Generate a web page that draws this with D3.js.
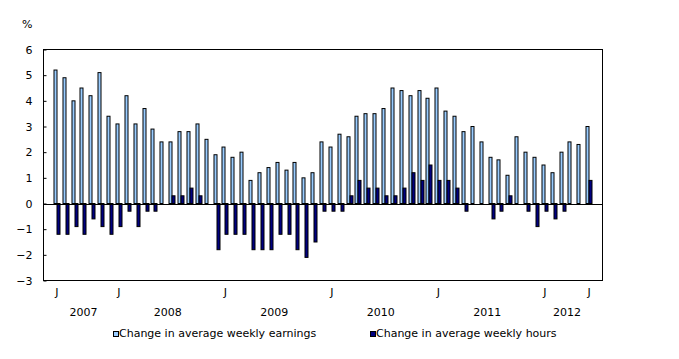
<!DOCTYPE html>
<html><head><meta charset="utf-8">
<script src="https://cdn.jsdelivr.net/npm/d3@7"></script>
<style>body{margin:0;background:#fff}text{font-family:"DejaVu Sans",Verdana,sans-serif;font-size:11px;fill:#000}</style>
</head><body><svg id="c" width="679" height="359"></svg>
<script>
const months = ["2007-06","2007-07","2007-08","2007-09","2007-10","2007-11","2007-12",
"2008-01","2008-02","2008-03","2008-04","2008-05","2008-06","2008-07","2008-08","2008-09","2008-10","2008-11","2008-12",
"2009-01","2009-02","2009-03","2009-04","2009-05","2009-06","2009-07","2009-08","2009-09","2009-10","2009-11","2009-12",
"2010-01","2010-02","2010-03","2010-04","2010-05","2010-06","2010-07","2010-08","2010-09","2010-10","2010-11","2010-12",
"2011-01","2011-02","2011-03","2011-04","2011-05","2011-06","2011-07","2011-08","2011-09","2011-10","2011-11","2011-12",
"2012-01","2012-02","2012-03","2012-04","2012-05","2012-06"];
const earnings = [5.2,4.9,4.0,4.5,4.2,5.1,3.4,
3.1,4.2,3.1,3.7,2.9,2.4,2.4,2.8,2.8,3.1,2.5,1.9,
2.2,1.8,2.0,0.9,1.2,1.4,1.6,1.3,1.6,1.0,1.2,2.4,
2.2,2.7,2.6,3.4,3.5,3.5,3.7,4.5,4.4,4.2,4.4,4.1,
4.5,3.6,3.4,2.8,3.0,2.4,1.8,1.7,1.1,2.6,2.0,1.8,
1.5,1.2,2.0,2.4,2.3,3.0];
const hours = [-1.2,-1.2,-0.9,-1.2,-0.6,-0.9,-1.2,
-0.9,-0.3,-0.9,-0.3,-0.3,0,0.3,0.3,0.6,0.3,0,-1.8,
-1.2,-1.2,-1.2,-1.8,-1.8,-1.8,-1.2,-1.2,-1.8,-2.1,-1.5,-0.3,
-0.3,-0.3,0.3,0.9,0.6,0.6,0.3,0.3,0.6,1.2,0.9,1.5,
0.9,0.9,0.6,-0.3,0,0,-0.6,-0.3,0.3,0,-0.3,-0.9,
-0.3,-0.6,-0.3,0,0,0.9];
const monthTicks = ["2007-06","2008-01","2009-01","2010-01","2011-01","2012-01","2012-06"];
const yearLabels = ["2007","2008","2009","2010","2011","2012"];
const yTicks = [-3,-2,-1,0,1,2,3,4,5,6];
const seriesNames = ["Change in average weekly earnings","Change in average weekly hours"];
const colors = ["#99ccff","#000080"];

const svg = d3.select("#c");
const L=43.5,R=602.5,T=49.5,B=280.5;
const x = d3.scaleBand().domain(months).range([L,R]).paddingInner(0).paddingOuter(1);
const y = d3.scaleLinear().domain([-3,6]).range([B,T]);
const bw = 3;
const cx = m => x(m) + x.bandwidth()/2;

// bars
svg.append("g").selectAll("rect").data(months).join("rect")
  .attr("x", m => Math.round(cx(m)) - bw)
  .attr("y", (m,i) => y(Math.max(0,earnings[i])))
  .attr("width", bw).attr("height", (m,i)=>Math.abs(y(earnings[i])-y(0)))
  .attr("fill", colors[0]).attr("stroke","#000").attr("stroke-width",1);
svg.append("g").selectAll("rect").data(months.filter((m,i)=>hours[i]!==0)).join("rect")
  .attr("x", m => Math.round(cx(m)))
  .attr("y", m => y(Math.max(0,hours[months.indexOf(m)])))
  .attr("width", bw).attr("height", m=>Math.abs(y(hours[months.indexOf(m)])-y(0)))
  .attr("fill", colors[1]).attr("stroke","#000").attr("stroke-width",1);

// zero line
svg.append("line").attr("x1",L).attr("x2",R).attr("y1",Math.round(y(0))+0.5).attr("y2",Math.round(y(0))+0.5).attr("stroke","#000");
// frame
svg.append("rect").attr("x",L).attr("y",T).attr("width",R-L).attr("height",B-T).attr("fill","none").attr("stroke","#000");

// y axis
const ya = svg.append("g").attr("transform",`translate(${L},0)`)
  .call(d3.axisLeft(y).tickValues(yTicks).tickSize(-3).tickPadding(11).tickFormat(d3.format("d")));
ya.select(".domain").remove();
ya.selectAll("line").attr("stroke","#000");
ya.selectAll("text").style("font-family",'"DejaVu Sans",Verdana,sans-serif').style("font-size","11px");
svg.append("text").attr("x",22).attr("y",28).text("%");

// x labels
svg.append("g").selectAll("text").data(monthTicks).join("text")
  .attr("x", m=>cx(m)).attr("y",296).attr("text-anchor","middle").text("J");
svg.append("g").selectAll("text").data(yearLabels).join("text")
  .attr("x", yr => { const ms = months.filter(m=>m.startsWith(yr)); return (cx(ms[0])+cx(ms[ms.length-1]))/2; })
  .attr("y",316).attr("text-anchor","middle").text(d=>d);

// legend
const lx = [113,370];
const lg = svg.append("g").selectAll("g").data(seriesNames).join("g")
  .attr("transform",(d,i)=>`translate(${lx[i]},331)`);
lg.append("rect").attr("x",0.5).attr("y",0.5).attr("width",5).attr("height",5).attr("fill",(d,i)=>colors[i]).attr("stroke","#000");
lg.append("text").attr("x",6).attr("y",5.5).text(d=>d);
</script></body></html>
